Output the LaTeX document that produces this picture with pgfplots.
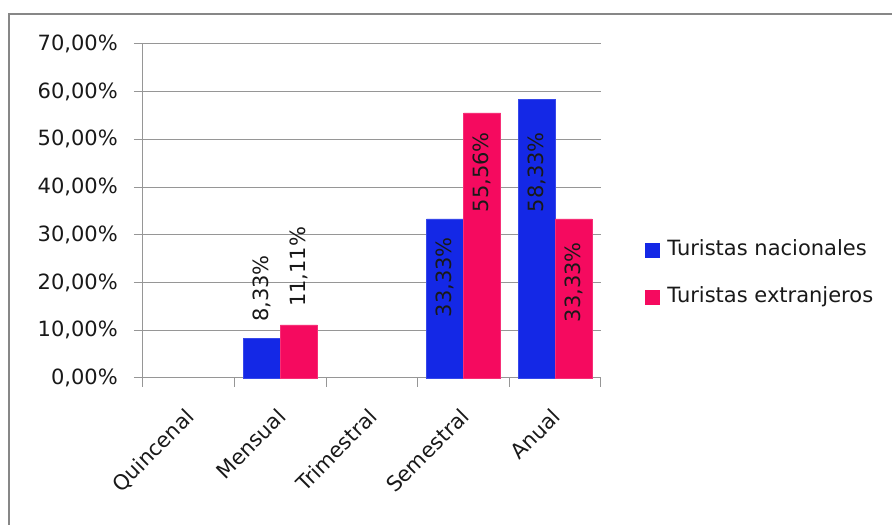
\documentclass[border=0pt]{standalone}
\usepackage{fontspec}
\setmainfont{DejaVu Sans}
\usepackage{pgfplots}
\pgfplotsset{compat=1.18}
\definecolor{cblue}{RGB}{20,40,230}
\definecolor{cpink}{RGB}{245,10,95}
\definecolor{gridgray}{RGB}{150,150,150}
\definecolor{framegray}{RGB}{135,135,135}
\definecolor{txt}{RGB}{25,25,25}
\begin{document}
\begin{tikzpicture}[font=\fontsize{21}{25}\selectfont, text=txt]
\useasboundingbox (0pt,0pt) rectangle (892pt,525pt);
\draw[framegray, line width=2pt] (9pt,0pt) -- (9pt,511pt) -- (892pt,511pt);
\begin{axis}[
  at={(143pt,147pt)}, anchor=south west,
  scale only axis, width=458pt, height=334pt,
  ybar,
  xmin=-0.5, xmax=4.5, ymin=0, ymax=70,
  axis x line*=bottom, axis y line*=left,
  axis line style={gridgray, line width=1pt},
  xtick={0,1,2,3,4},
  xticklabels={Quincenal,Mensual,Trimestral,Semestral,Anual},
  major x tick style={draw=none},
  minor xtick={-0.5,0.5,1.5,2.5,3.5,4.5},
  minor x tick style={gridgray, line width=1pt},
  ytick={0,10,20,30,40,50,60,70},
  yticklabels={{0,00\%},{10,00\%},{20,00\%},{30,00\%},{40,00\%},{50,00\%},{60,00\%},{70,00\%}},
  ymajorgrids, grid style={gridgray, line width=1pt},
  major y tick style={gridgray, line width=1pt},
  tick align=outside, major tick length=9pt, minor tick length=9pt,
  yticklabel style={anchor=east, inner sep=0pt, xshift=-16pt},
  xticklabel style={xshift=-4.5pt, yshift=-20pt, rotate=45, anchor=north east, inner sep=0pt},
  legend style={at={(1.096,0.313)}, anchor=west, draw=none, fill=none,
    inner sep=0pt, outer sep=0pt, row sep=26pt, column sep=0pt,
    nodes={inner sep=0pt, text height=16pt, text depth=5pt, anchor=west},
    font=\fontsize{21}{25}\selectfont},
  legend cell align=left,
  clip=false,
]
\addplot[fill=cblue, draw=cblue!85!white, bar width=37pt, bar shift=-18.5pt,
  legend image code/.code={\fill[cblue] (0pt,-7pt) rectangle (14pt,7pt);}]
  coordinates {(1,8.33) (3,33.33) (4,58.33)};
\addlegendentry{\hspace{8pt}Turistas nacionales}
\addplot[fill=cpink, draw=cpink!85!white, bar width=37pt, bar shift=18.5pt,
  legend image code/.code={\fill[cpink] (0pt,-7pt) rectangle (14pt,7pt);}]
  coordinates {(1,11.11) (3,55.56) (4,33.33)};
\addlegendentry{\hspace{8pt}Turistas extranjeros}

\node[rotate=90, anchor=west, inner sep=0pt] at (axis cs:0.798,11.74) {8,33\%};
\node[rotate=90, anchor=west, inner sep=0pt] at (axis cs:1.202,14.88) {11,11\%};
\node[rotate=90, anchor=east, inner sep=0pt] at (axis cs:2.798,29.55) {33,33\%};
\node[rotate=90, anchor=east, inner sep=0pt] at (axis cs:3.202,51.56) {55,56\%};
\node[rotate=90, anchor=east, inner sep=0pt] at (axis cs:3.798,51.56) {58,33\%};
\node[rotate=90, anchor=east, inner sep=0pt] at (axis cs:4.202,28.5) {33,33\%};
\end{axis}
\end{tikzpicture}
\end{document}
